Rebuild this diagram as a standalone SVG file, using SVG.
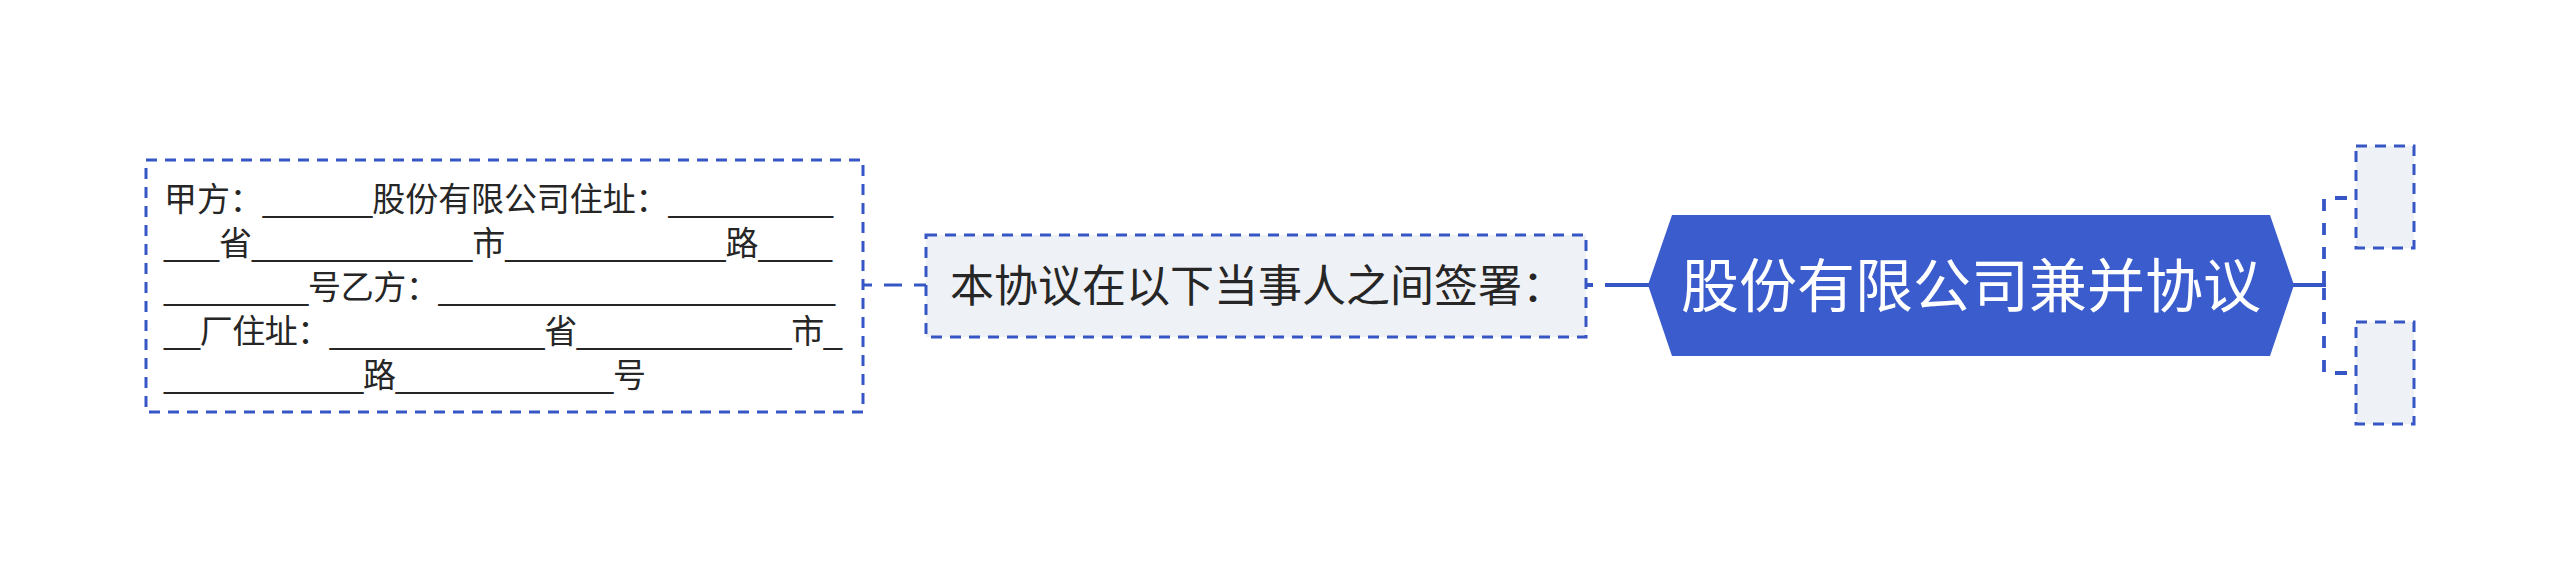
<svg xmlns="http://www.w3.org/2000/svg" width="2560" height="571" viewBox="0 0 2560 571">
<style>
.t{font-family:"Liberation Sans","Noto Sans CJK SC",sans-serif;fill:#262626}
.dbox{fill:none;stroke:#3656C6;stroke-width:3;stroke-dasharray:11 8}
.gbox{fill:#EEF1F5;stroke:#3656C6;stroke-width:3;stroke-dasharray:11 8}
.conn{fill:none;stroke:#3656C6}
</style>
<rect width="2560" height="571" fill="#ffffff"/>
<g id="connectors">
<line class="conn" x1="864" y1="285" x2="926" y2="285" stroke-width="3" stroke-dasharray="18 12" stroke-dashoffset="10"/>
<line class="conn" x1="1586" y1="285" x2="1652" y2="285" stroke-width="4" stroke-dasharray="7 12 100"/>
<line class="conn" x1="2292" y1="285" x2="2326" y2="285" stroke-width="4"/>
<path class="conn" d="M2356,198 H2324 V285" stroke-width="3.8" stroke-dasharray="12 12" stroke-dashoffset="15"/>
<path class="conn" d="M2356,373 H2324 V285" stroke-width="3.8" stroke-dasharray="12 12" stroke-dashoffset="15"/>
</g>
<g id="node-main">
<polygon points="1648,285 1672,215 2270,215 2294,285 2270,356 1672,356" fill="#3B5CCC"/>
<text class="t" x="1971" y="307" font-size="58" text-anchor="middle" style="fill:#ffffff">股份有限公司兼并协议</text>
</g>
<g id="node-signing">
<rect class="gbox" x="926" y="235" width="660" height="102"/>
<text class="t" x="950" y="302" font-size="44">本协议在以下当事人之间签署：</text>
</g>
<g id="node-parties">
<rect class="dbox" x="146" y="160" width="717" height="252"/>
<text class="t" font-size="33" x="164" y="211" textLength="669" lengthAdjust="spacing">甲方：______股份有限公司住址：_________</text>
<text class="t" font-size="33" x="164" y="255" textLength="668" lengthAdjust="spacing">___省____________市____________路____</text>
<text class="t" font-size="33" x="164" y="299" textLength="671" lengthAdjust="spacing">________号乙方：______________________</text>
<text class="t" font-size="33" x="164" y="343" textLength="678" lengthAdjust="spacing">__厂住址：____________省____________市_</text>
<text class="t" font-size="33" x="164" y="387" textLength="482" lengthAdjust="spacing">___________路____________号</text>
</g>
<g id="node-empty-1">
<rect class="gbox" x="2356" y="146" width="58" height="102"/>
</g>
<g id="node-empty-2">
<rect class="gbox" x="2356" y="322" width="58" height="102"/>
</g>
</svg>
